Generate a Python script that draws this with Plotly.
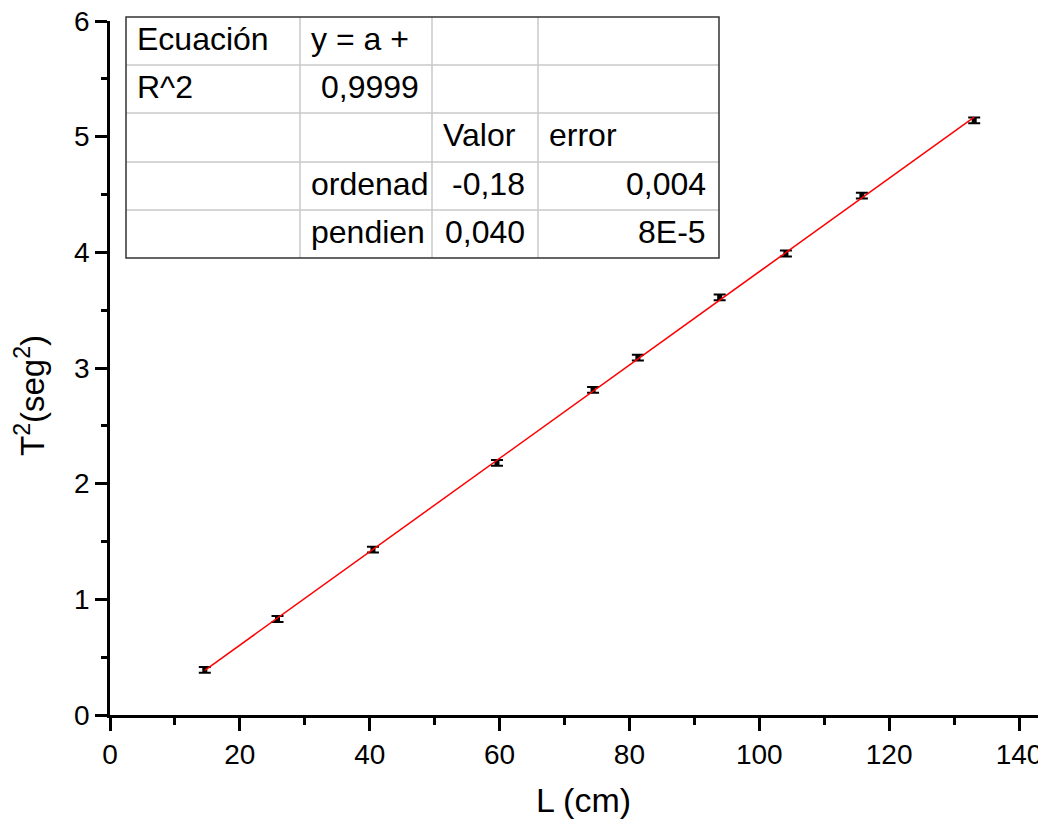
import numpy as np
import plotly.graph_objects as go

# ---- data ----
L_cm = [14.6, 25.8, 40.5, 59.6, 74.4, 81.3, 93.9, 104.1, 115.8, 133.1]
T2_seg2 = [0.39, 0.83, 1.43, 2.18, 2.81, 3.09, 3.61, 3.99, 4.49, 5.14]
T2_err = [0.025, 0.025, 0.025, 0.025, 0.025, 0.025, 0.025, 0.025, 0.025, 0.025]

x_ticks = [0, 20, 40, 60, 80, 100, 120, 140]
y_ticks = [0, 1, 2, 3, 4, 5, 6]

table_rows = [
    ["Ecuación", "y = a +", "", ""],
    ["R^2", "0,9999", "", ""],
    ["", "", "Valor", "error"],
    ["", "ordenad", "-0,18", "0,004"],
    ["", "pendien", "0,040", "8E-5"],
]
table_align = [
    ["left", "left", "left", "left"],
    ["left", "right", "left", "left"],
    ["left", "left", "left", "left"],
    ["left", "left", "right", "right"],
    ["left", "left", "right", "right"],
]
edge_texts = ["1", "1", "0", "0", "1", "0", "1", "0"]

# ---- geometry: reference pixels; page body has an 8px margin ----
OFF = 8
W, H = 1046 - OFF, 822 - OFF
REF_PL, REF_PR, REF_PT, REF_PB = 110, 1046, 21, 715
PL, PR, PT, PB = REF_PL - OFF, REF_PR - OFF, REF_PT - OFF, REF_PB - OFF
X_MAX = 140 * (REF_PR - REF_PL) / (1019 - REF_PL)


def px(x):
    return (x - REF_PL) / (REF_PR - REF_PL)


def py(y):
    return (REF_PB - y) / (REF_PB - REF_PT)


FONT = "Liberation Sans, Arial, sans-serif"

# linear fit from the data
b, a = np.polyfit(L_cm, T2_seg2, 1)
fit_x = [min(L_cm), max(L_cm)]
fit_y = [a + b * v for v in fit_x]

fig = go.Figure()
fig.add_trace(go.Scatter(
    x=L_cm, y=T2_seg2, mode="markers",
    marker=dict(symbol="square", size=5, color="black"),
    error_y=dict(type="data", array=T2_err, visible=True, width=6, thickness=2, color="black"),
    showlegend=False, hoverinfo="skip",
))
fig.add_trace(go.Scatter(
    x=fit_x, y=fit_y, mode="lines",
    line=dict(color="#ff0000", width=1.5),
    showlegend=False, hoverinfo="skip",
))

axis_common = dict(
    showgrid=False, zeroline=False, showline=True, linecolor="black", linewidth=2.5,
    ticks="outside", tickwidth=2.5, tickcolor="black", ticklabeloverflow="allow",
    tickfont=dict(family=FONT, size=28, color="black"),
)
fig.update_xaxes(range=[0, X_MAX], tickvals=x_ticks, ticklen=13,
                 minor=dict(dtick=10, ticklen=7, tickwidth=2.5, ticks="outside", tickcolor="black"),
                 **axis_common)
fig.update_yaxes(range=[0, 6], tickvals=y_ticks, ticklen=12,
                 minor=dict(dtick=0.5, ticklen=6, tickwidth=2.5, ticks="outside", tickcolor="black"),
                 **axis_common)

shapes = []
col_x = [126, 300, 432, 538, 719]
row_y = [17, 65, 113, 162, 210, 258]
for xv in col_x[1:-1]:
    shapes.append(dict(type="line", xref="paper", yref="paper", x0=px(xv), x1=px(xv),
                       y0=py(row_y[0]), y1=py(row_y[-1]), line=dict(color="#c8c8c8", width=1.5)))
for yv in row_y[1:-1]:
    shapes.append(dict(type="line", xref="paper", yref="paper", x0=px(col_x[0]), x1=px(col_x[-1]),
                       y0=py(yv), y1=py(yv), line=dict(color="#c8c8c8", width=1.5)))
shapes.append(dict(type="rect", xref="paper", yref="paper", x0=px(col_x[0]), x1=px(col_x[-1]),
                   y0=py(row_y[-1]), y1=py(row_y[0]), line=dict(color="#333333", width=1.5)))

annotations = []
pad_l, pad_r = 9, 11
for r, row in enumerate(table_rows):
    yc = (row_y[r] + row_y[r + 1]) / 2 - 2
    for c, txt in enumerate(row):
        if not txt:
            continue
        al = table_align[r][c]
        if al == "left":
            xv, xa = col_x[c] + pad_l, "left"
        else:
            xv, xa = col_x[c + 1] - pad_r, "right"
        annotations.append(dict(text=txt, xref="paper", yref="paper", x=px(xv), y=py(yc),
                                xanchor=xa, yanchor="middle", showarrow=False,
                                font=dict(family=FONT, size=32, color="black")))

annotations.append(dict(text="L (cm)", xref="paper", yref="paper", x=px(583), y=py(800),
                        xanchor="center", yanchor="middle", showarrow=False,
                        font=dict(family=FONT, size=34, color="black")))
annotations.append(dict(text="T<sup>2</sup>(seg<sup>2</sup>)", xref="paper", yref="paper",
                        x=px(30), y=py(396), textangle=-90,
                        xanchor="center", yanchor="middle", showarrow=False,
                        font=dict(family=FONT, size=33, color="black")))

# clipped text column at the right edge of the picture
for i, t in enumerate(edge_texts):
    yc = 101 + i * 56.7
    annotations.append(dict(text=t, xref="paper", yref="paper", x=px(1038), y=py(yc),
                            xanchor="left", yanchor="middle", showarrow=False,
                            font=dict(family=FONT, size=30, color="black")))

fig.update_layout(
    width=W, height=H,
    margin=dict(l=PL, r=W - PR, t=PT, b=H - PB, autoexpand=False),
    paper_bgcolor="white", plot_bgcolor="white",
    shapes=shapes, annotations=annotations,
    font=dict(family=FONT, color="black"),
)

fig.write_html("out.html")
